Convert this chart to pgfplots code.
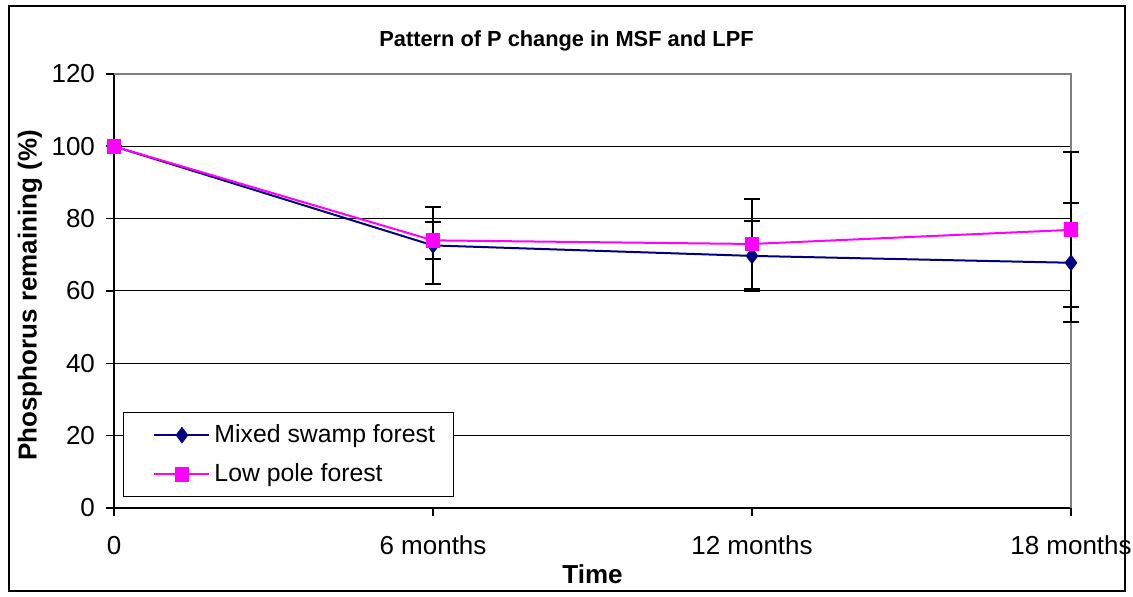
\documentclass[border=0pt]{standalone}
\usepackage{pgfplots}
\pgfplotsset{compat=1.18}
\usepackage{fontspec}
\setmainfont{Liberation Sans}
\definecolor{msf}{RGB}{0,0,128}
\definecolor{lpf}{RGB}{255,0,255}
\begin{document}
\begin{tikzpicture}
\begin{axis}[
  at={(0,0)}, anchor=south west,
  width=478.5pt, height=217pt, scale only axis,
  clip=false,
  xmin=0, xmax=3, ymin=0, ymax=120,
  xtick={0,1,2,3},
  xticklabels={0, 6 months, 12 months, 18 months},
  ytick={0,20,...,120},
  axis x line*=bottom, axis y line*=left,
  axis line style={black, line width=0.6pt},
  tick align=outside, major tick length=4pt,
  tick style={black, line width=0.6pt},
  ymajorgrids, grid style={black, line width=0.5pt},
  tick label style={font=\fontsize{13}{15}\selectfont},
  /pgf/number format/assume math mode=true,
  xticklabel style={yshift=-6.5pt},
  yticklabel style={xshift=-2pt},
  title={\bfseries Pattern of P change in MSF and LPF},
  title style={font=\fontsize{10.9}{12}\selectfont, yshift=2pt, xshift=-13pt},
  xlabel={\bfseries Time},
  ylabel={\bfseries Phosphorus remaining (\%)},
  label style={font=\fontsize{13}{15}\selectfont},
  xlabel style={at={(0.5,0)}, anchor=center, yshift=-33pt},
  ylabel style={at={(0,0.49)}, anchor=center, yshift=42pt},
  legend style={at={(0.0094,0.025)}, anchor=south west, draw=black,
    fill=white, font=\fontsize{12.4}{14}\selectfont, inner xsep=0pt,
    inner ysep=4pt, row sep=5pt, line width=0.5pt,
    /tikz/every even column/.append style={column sep=0pt}},
  legend cell align=left,
  legend image code/.code={
    \path (0pt,0pt) (38pt,0pt);
    \draw[mark repeat=2, mark phase=2, #1] plot coordinates {(15pt,0pt) (28.75pt,0pt) (42.5pt,0pt)};},
]
\draw[gray, line width=0.6pt] (rel axis cs:0,1) -- (rel axis cs:1,1) -- (rel axis cs:1,0);
\addplot[msf, line width=1pt, mark=diamond*, mark size=3.4pt,
  error bars/.cd, y dir=both, y explicit,
  error bar style={black, line width=1pt},
  error mark options={rotate=90, mark size=4pt, black, line width=1pt}]
  coordinates {(0,100) +- (0,0) (1,72.6) +- (0,10.6) (2,69.7) +- (0,9.7) (3,67.8) +- (0,16.4)};
\addlegendentry{Mixed swamp forest\rule{7pt}{0pt}}
\addplot[lpf, line width=1pt, mark=square*, mark size=3.2pt,
  error bars/.cd, y dir=both, y explicit,
  error bar style={black, line width=1pt},
  error mark options={rotate=90, mark size=4pt, black, line width=1pt}]
  coordinates {(0,100) +- (0,0) (1,74.0) +- (0,5.2) (2,73.0) +- (0,12.5) (3,76.9) +- (0,21.4)};
\addlegendentry{Low pole forest}
\end{axis}
\pgfresetboundingbox
\path (-57pt,-44.5pt) rectangle (509.5pt,254pt);
\draw[black, line width=0.6pt] (-52.5pt,-41.5pt) rectangle (505.5pt,251pt);
\end{tikzpicture}
\end{document}
